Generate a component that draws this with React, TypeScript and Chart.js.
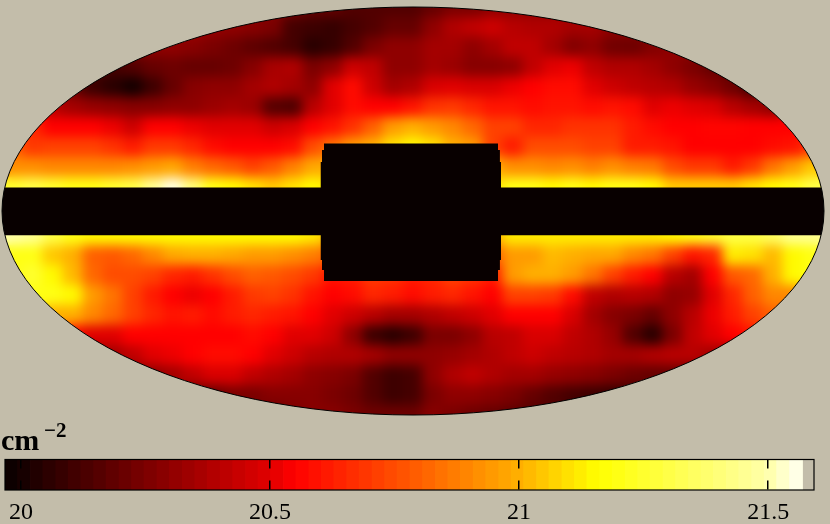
import React, { useEffect, useRef } from "react";
import { Chart, registerables } from "chart.js";

Chart.register(...registerables);

// log10 column density, one list per row of cells; north1 touches the band
const north10 = [20.3,20.25,20.2,20.2,20.15,20.15,20.15,20.15,20.2,20.25,20.25,20.3,20.3,20.3,20.3];
const north9 = [20.35,20.32,20.3,20.28,20.25,20.12,20.1,20.08,20.12,20.15,20.2,20.2,20.3,20.38,20.42,20.45,20.4,20.38,20.38,20.35,20.35,20.3,20.3];
const north8 = [20.3,20.3,20.3,20.28,20.25,20.22,20.18,20.15,20.12,20.05,20.08,20.15,20.25,20.3,20.3,20.35,20.35,20.3,20.35,20.42,20.42,20.35,20.27,20.3,20.23,20.22,20.27,20.3,20.3];
const north7 = [20.15,20.12,20.15,20.2,20.22,20.2,20.2,20.22,20.28,20.36,20.38,20.25,20.3,20.45,20.42,20.3,20.3,20.35,20.33,20.28,20.28,20.3,20.42,20.5,20.52,20.42,20.38,20.38,20.35,20.3,20.25,20.2,20.15];
const north6 = [20.2,20.1,20.05,20.0,20.1,20.2,20.28,20.3,20.3,20.35,20.38,20.35,20.3,20.5,20.58,20.45,20.35,20.38,20.48,20.5,20.48,20.48,20.52,20.55,20.58,20.58,20.5,20.45,20.42,20.4,20.38,20.32,20.28,20.22,20.12];
const north5 = [20.4,20.35,20.32,20.3,20.28,20.28,20.3,20.3,20.33,20.35,20.33,20.16,20.14,20.4,20.5,20.58,20.55,20.55,20.6,20.68,20.7,20.65,20.6,20.6,20.58,20.6,20.6,20.58,20.6,20.58,20.5,20.52,20.5,20.48,20.4,20.35,20.3];
const north4 = [20.65,20.55,20.55,20.55,20.52,20.45,20.55,20.55,20.52,20.5,20.5,20.5,20.45,20.48,20.55,20.6,20.68,20.8,20.95,21.0,20.95,20.9,20.82,20.72,20.72,20.65,20.65,20.68,20.68,20.68,20.62,20.58,20.55,20.55,20.56,20.56,20.55,20.55,20.55];
const north3 = [20.8,20.7,20.72,20.72,20.72,20.68,20.62,20.7,20.7,20.65,20.58,20.55,20.55,20.55,20.58,20.75,20.85,20.95,21.0,21.1,21.15,21.1,21.0,20.95,20.72,20.62,20.75,20.75,20.75,20.72,20.72,20.62,20.62,20.6,20.55,20.55,20.55,20.55,20.58,20.6,20.7];
const north2 = [20.92,20.92,20.9,20.9,20.9,20.9,20.92,20.95,20.98,20.88,20.82,20.78,20.72,20.78,20.88,20.98,21.0,21.0,21.0,21.0,21.0,21.0,21.0,21.0,21.0,20.92,20.92,20.9,20.92,20.88,20.92,20.88,20.86,20.75,20.7,20.7,20.62,20.7,20.85,20.95,21.05];
const north1 = [21.25,21.3,21.25,21.2,21.2,21.25,21.3,21.45,21.55,21.4,21.2,21.15,21.1,21.05,21.1,21.15,21.1,21.1,21.1,21.1,21.1,21.1,21.1,21.1,21.1,21.2,21.2,21.15,21.2,21.15,21.2,21.2,21.15,21.05,21.05,21.05,21.05,21.1,21.15,21.2,21.3];
const south1 = [21.5,21.45,21.3,21.2,21.15,21.15,21.15,21.15,21.15,21.15,21.15,21.15,21.15,21.15,21.15,21.12,21,21,21,21,21,21,21,21,21,21.12,21.12,21.12,21.12,21.12,21.12,21.12,21.12,21.15,21.2,21.25,21.3,21.3,21.35,21.45,21.45];
const south2 = [21.2,21.2,21.05,21.0,20.8,20.78,20.82,20.9,20.98,21.0,21.0,20.98,20.95,20.95,20.92,20.88,20.8,20.8,20.8,20.8,20.8,20.8,20.8,20.8,20.8,20.95,20.95,21.02,21.0,20.98,20.98,20.9,20.85,20.72,20.6,20.65,21.12,21.1,21.02,21.15,21.2];
const south3 = [21.2,21.25,21.15,21.02,20.82,20.75,20.75,20.72,20.65,20.62,20.68,20.75,20.8,20.78,20.75,20.7,20.6,20.62,20.7,20.68,20.62,20.65,20.72,20.68,20.62,20.95,21.0,21.0,20.95,20.85,20.72,20.62,20.55,20.4,20.35,20.55,20.78,20.82,21.0,21.15,21.2];
const south4 = [21.2,21.2,21.15,20.95,20.85,20.72,20.62,20.55,20.52,20.55,20.62,20.7,20.72,20.68,20.6,20.55,20.58,20.65,20.62,20.58,20.62,20.65,20.6,20.55,20.72,20.72,20.7,20.58,20.42,20.38,20.4,20.38,20.3,20.32,20.5,20.65,20.8,20.9,20.9];
const south5 = [21.0,21.0,20.9,20.82,20.72,20.65,20.6,20.62,20.58,20.62,20.65,20.62,20.6,20.55,20.5,20.45,20.4,20.35,20.35,20.38,20.42,20.45,20.5,20.55,20.55,20.55,20.48,20.35,20.28,20.25,20.2,20.3,20.4,20.52,20.62,20.72,20.8];
const south6 = [20.55,20.5,20.5,20.55,20.55,20.55,20.55,20.55,20.55,20.58,20.55,20.5,20.5,20.45,20.3,20.1,20.05,20.1,20.25,20.25,20.3,20.4,20.42,20.48,20.48,20.42,20.38,20.32,20.15,20.05,20.25,20.42,20.5,20.55,20.6];
const south7 = [20.3,20.35,20.42,20.5,20.52,20.55,20.58,20.58,20.55,20.5,20.45,20.4,20.38,20.38,20.35,20.3,20.3,20.3,20.32,20.35,20.38,20.42,20.45,20.42,20.4,20.38,20.35,20.35,20.38,20.4,20.4,20.35,20.3];
const south8 = [20.25,20.3,20.35,20.42,20.48,20.48,20.42,20.38,20.35,20.3,20.28,20.25,20.15,20.1,20.12,20.3,20.38,20.42,20.38,20.35,20.35,20.32,20.3,20.28,20.25,20.22,20.2,20.2,20.2];
const south9 = [20.2,20.2,20.25,20.25,20.28,20.28,20.28,20.25,20.22,20.15,20.1,20.12,20.25,20.3,20.3,20.28,20.25,20.2,20.15,20.12,20.1,20.08,20.1];
const south10 = [20.2,20.25,20.28,20.28,20.25,20.22,20.22,20.22,20.28,20.25,20.22,20.2,20.18,20.15,20.15];

const mapRows = [north10,north9,north8,north7,north6,north5,north4,north3,north2,north1,south1,south2,south3,south4,south5,south6,south7,south8,south9,south10];
const rowLat = [10.175,9.175,8.175,7.175,6.175,5.175,4.175,3.175,2.175,1.175,-1.225,-2.225,-3.225,-4.225,-5.225,-6.225,-7.225,-8.225,-9.225,-10.225];

// the masked galactic plane and the central box (three stacked slabs), in map units
const maskLeft = [-21, -4.45, -4.55, -4.625];
const maskRight = [21, 4.25, 4.345, 4.4];
const maskTop = [1.175, 3.375, 3.05, 2.45];
const maskBottom = [-1.215, -3.5, -2.95, -2.45];

// colour bar
const barLevels = [19.981,20.006,20.032,20.057,20.083,20.108,20.133,20.159,20.184,20.21,20.235,20.26,20.286,20.311,20.337,20.362,20.387,20.413,20.438,20.464,20.489,20.514,20.54,20.565,20.591,20.616,20.641,20.667,20.692,20.718,20.743,20.768,20.794,20.819,20.845,20.87,20.895,20.921,20.946,20.972,20.997,21.022,21.048,21.073,21.099,21.124,21.149,21.175,21.2,21.226,21.251,21.276,21.302,21.327,21.353,21.378,21.403,21.429,21.454,21.48,21.505,21.53,21.556];
const barTicks = [20, 20.5, 21, 21.5];
const unitText = "cm";
const unitPower = "\u22122";

const stopValue = [19.97, 20.5, 20.55, 20.76, 21.0, 21.16, 21.5, 21.57];
const stopColor = [[8,0,0],[225,0,0],[255,0,0],[255,80,0],[255,175,0],[255,255,0],[255,255,170],[255,255,245]];
const BG = "#c3bdaa";
const MASK = "#080000";

function colourOf(v: number) {
  let i = 0;
  while (i < stopValue.length - 2 && v > stopValue[i + 1]) i++;
  const t = Math.max(0, Math.min(1, (v - stopValue[i]) / (stopValue[i + 1] - stopValue[i])));
  const c = stopColor[i].map((a, k) => Math.round(a + (stopColor[i + 1][k] - a) * t));
  return `rgb(${c[0]},${c[1]},${c[2]})`;
}

const heatPoints = mapRows.flatMap((row, r) =>
  row.map((v, j) => ({ x: j - (row.length - 1) / 2, y: rowLat[r], v }))
);

const ellipse = (chart: any) => {
  const { x, y } = chart.scales;
  const ctx = chart.ctx;
  ctx.beginPath();
  ctx.ellipse(x.getPixelForValue(0), y.getPixelForValue(0), x.getPixelForValue(20.55) - x.getPixelForValue(0), y.getPixelForValue(0) - y.getPixelForValue(10.2), 0, 0, Math.PI * 2);
};

const mapPlugin = {
  id: "mapShape",
  afterDatasetDraw(chart: any, args: any) {
    if (chart.data.datasets[args.index].label !== "heat") return;
    // smooth the finished layer of cells
    const ctx = chart.ctx;
    const canvas = chart.canvas;
    const layer = document.createElement("canvas");
    layer.width = canvas.width;
    layer.height = canvas.height;
    layer.getContext("2d")!.drawImage(canvas, 0, 0);
    ctx.save();
    ctx.filter = "blur(6px)";
    ctx.drawImage(layer, 0, 0);
    ctx.restore();
  },
  afterDatasetsDraw(chart: any) {
    // trim everything to the sky outline and ink the rim
    const ctx = chart.ctx;
    ctx.save();
    ctx.globalCompositeOperation = "destination-in";
    ellipse(chart);
    ctx.fillStyle = "#000";
    ctx.fill();
    ctx.restore();
    ellipse(chart);
    ctx.strokeStyle = "#000";
    ctx.lineWidth = 1;
    ctx.stroke();
  },
};

const barPlugin = {
  id: "barFrame",
  afterDraw(chart: any) {
    const { ctx, chartArea: a } = chart;
    ctx.save();
    ctx.strokeStyle = "#000";
    ctx.lineWidth = 1.2;
    ctx.strokeRect(a.left, a.top, a.right - a.left, a.bottom - a.top);
    ctx.fillStyle = "#000";
    ctx.textBaseline = "alphabetic";
    ctx.font = 'bold 30px "Liberation Serif"';
    ctx.fillText(unitText, 1, 30);
    ctx.font = 'bold 21px "Liberation Serif"';
    ctx.fillText(unitPower, 44, 17);
    ctx.restore();
  },
};

export default function App() {
  const mapRef = useRef<HTMLCanvasElement>(null);
  const barRef = useRef<HTMLCanvasElement>(null);

  useEffect(() => {
    document.body.style.margin = "0";
    document.body.style.background = BG;
    const maskSets = maskLeft.map((left, i) => ({
      label: "mask" + i,
      data: [
        { x: left, y: maskTop[i] },
        { x: maskRight[i], y: maskTop[i] },
      ],
      showLine: true,
      borderWidth: 0,
      pointRadius: 0,
      backgroundColor: MASK,
      fill: { target: { value: maskBottom[i] } },
      order: 0,
    }));
    const mapChart = new Chart(mapRef.current!, {
      type: "scatter",
      data: {
        datasets: [
          ...maskSets,
          {
            label: "heat",
            data: heatPoints,
            pointStyle: "rect",
            pointRadius: 15,
            borderWidth: 0,
            backgroundColor: heatPoints.map((p) => colourOf(p.v)),
            order: 1,
          },
        ],
      },
      options: {
        responsive: false,
        animation: false,
        layout: { padding: 0, autoPadding: false },
        plugins: { legend: { display: false }, tooltip: { enabled: false } },
        scales: {
          x: { type: "linear", display: false, min: -20.65, max: 20.85 },
          y: { type: "linear", display: false, min: -10.45, max: 10.55 },
        },
      },
      plugins: [mapPlugin],
    } as any);

    const barChart = new Chart(barRef.current!, {
      type: "bar",
      data: {
        datasets: [
          {
            data: barLevels.map((x) => ({ x, y: 1 })),
            backgroundColor: barLevels.map(colourOf),
            barThickness: 13,
            borderWidth: 0,
          },
        ],
      },
      options: {
        responsive: false,
        animation: false,
        layout: { padding: { left: 5, right: 16, top: 39.5, bottom: 0 }, autoPadding: false },
        plugins: { legend: { display: false }, tooltip: { enabled: false } },
        scales: {
          x: {
            type: "linear",
            offset: false,
            min: 19.968,
            max: 21.592,
            afterBuildTicks: (s: any) => {
              s.ticks = barTicks.map((value) => ({ value }));
            },
            afterFit: (s: any) => {
              s.height = 34;
            },
            grid: { color: "#000", lineWidth: 1.5, drawTicks: false, z: 1, offset: false },
            border: { display: false, dash: [9, 12] },
            ticks: {
              color: "#000",
              padding: 8,
              maxRotation: 0,
              autoSkip: false,
              font: { family: "Liberation Serif", size: 24 },
              callback: (v: any) => String(v),
            },
          },
          y: { display: false, min: 0, max: 1 },
        },
      },
      plugins: [barPlugin],
    } as any);

    return () => {
      mapChart.destroy();
      barChart.destroy();
    };
  }, []);

  return (
    <div style={{ position: "relative", width: 830, height: 524, background: BG, overflow: "hidden" }}>
      <canvas ref={mapRef} width={830} height={420} style={{ position: "absolute", left: 0, top: 0 }} />
      <canvas ref={barRef} width={830} height={104} style={{ position: "absolute", left: 0, top: 420 }} />
    </div>
  );
}
